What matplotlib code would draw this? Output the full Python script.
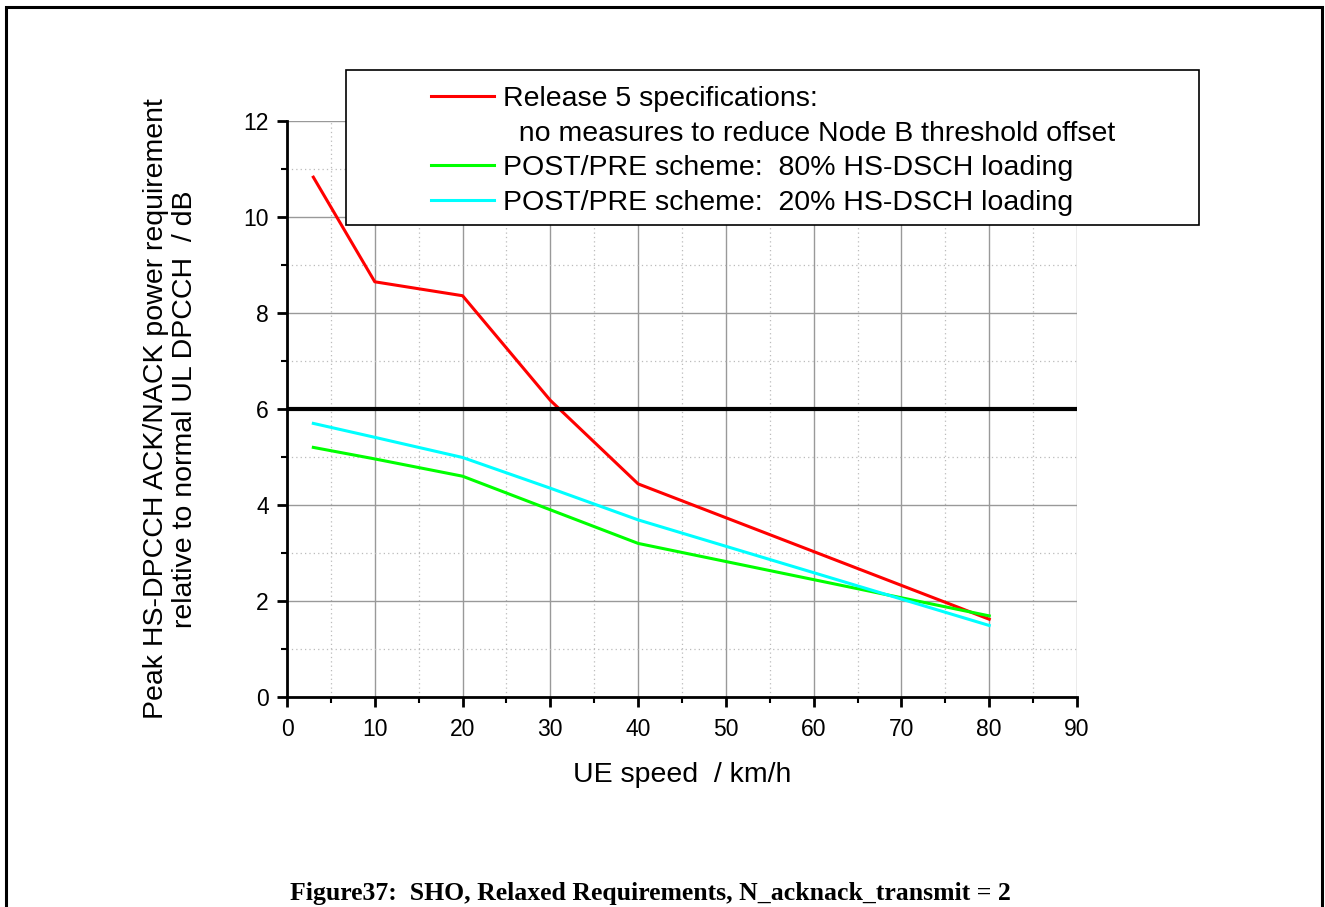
import matplotlib
matplotlib.use("Agg")
import matplotlib.pyplot as plt
from matplotlib.lines import Line2D
from matplotlib.patches import Rectangle
from matplotlib.ticker import MultipleLocator

# ---- data ----
speed = [3, 10, 20, 30, 40, 80]
rel5 = [10.83, 8.65, 8.36, 6.18, 4.44, 1.62]
post_pre_80 = [5.20, 4.96, 4.60, 3.90, 3.20, 1.69]
post_pre_20 = [5.70, 5.41, 4.99, 4.35, 3.69, 1.49]
threshold = 6.0

labels = [
    "Release 5 specifications:",
    "  no measures to reduce Node B threshold offset",
    "POST/PRE scheme:  80% HS-DSCH loading",
    "POST/PRE scheme:  20% HS-DSCH loading",
]
xlabel = "UE speed  / km/h"
ylabel = "Peak HS-DPCCH ACK/NACK power requirement\nrelative to normal UL DPCCH  / dB"
caption = "Figure37:  SHO, Relaxed Requirements, N_acknack_transmit = 2"

plt.rcParams['font.family'] = ['Liberation Sans', 'DejaVu Sans']

W, H = 1325, 907
fig = plt.figure(figsize=(W / 100, H / 100), dpi=100)
ax = fig.add_axes([287 / W, 1 - 697 / H, 790 / W, 576 / H])

ax.plot(speed, rel5, color='#ff0000', lw=2.2, zorder=4)
ax.plot(speed, post_pre_80, color='#00ff00', lw=2.2, zorder=4)
ax.plot(speed, post_pre_20, color='#00ffff', lw=2.2, zorder=4)
ax.axhline(threshold, color='black', lw=3, zorder=5)

ax.set_xlim(0, 90)
ax.set_ylim(0, 12)
ax.xaxis.set_major_locator(MultipleLocator(10))
ax.xaxis.set_minor_locator(MultipleLocator(5))
ax.yaxis.set_major_locator(MultipleLocator(2))
ax.yaxis.set_minor_locator(MultipleLocator(1))

ax.grid(which='major', color='#999999', lw=1.0, ls='-')
ax.grid(which='minor', color='#bbbbbb', lw=0.9, ls=(0, (1, 2.5)))
ax.set_axisbelow(True)

for s in ['top', 'right']:
    ax.spines[s].set_visible(False)
for s in ['left', 'bottom']:
    ax.spines[s].set_linewidth(2)
    ax.spines[s].set_color('black')

ax.tick_params(which='major', direction='out', length=7, width=2, labelsize=16.5, pad=6)
ax.tick_params(axis='x', which='major', pad=8)
ax.tick_params(which='minor', direction='out', length=4, width=1.5)

ax.set_xlabel(xlabel, fontsize=20.5, labelpad=15)
ax.set_ylabel(ylabel, fontsize=20.5, labelpad=33, linespacing=1.15)

# legend with framed box drawn separately
fig.add_artist(Rectangle((346 / W, 1 - 225 / H), (1199 - 346) / W, (225 - 70) / H,
                         transform=fig.transFigure, facecolor='white',
                         edgecolor='black', lw=1.2, zorder=6))
handles = [
    Line2D([], [], color='#ff0000', lw=2.2),
    Line2D([], [], color='none'),
    Line2D([], [], color='#00ff00', lw=2.2),
    Line2D([], [], color='#00ffff', lw=2.2),
]
leg = fig.legend(handles, labels, loc='upper left',
                 bbox_to_anchor=(431 / W, 1 - 86 / H), bbox_transform=fig.transFigure,
                 frameon=False, fontsize=20.5, borderpad=0, borderaxespad=0,
                 handlelength=63 / 28.5, handletextpad=9 / 28.5, labelspacing=0.3)
leg.set_zorder(7)

# outer border
fig.add_artist(Rectangle((6 / W, -0.05), (1322 - 6) / W, 1.05 - 7 / H,
                         transform=fig.transFigure, fill=False,
                         edgecolor='black', lw=2.2, zorder=8))

fig.text(650 / W, 1 - 900 / H, caption, ha='center', va='baseline',
         fontsize=18.5, fontweight='bold', family='Liberation Serif')

fig.savefig('out.png', dpi=100, facecolor='white')
